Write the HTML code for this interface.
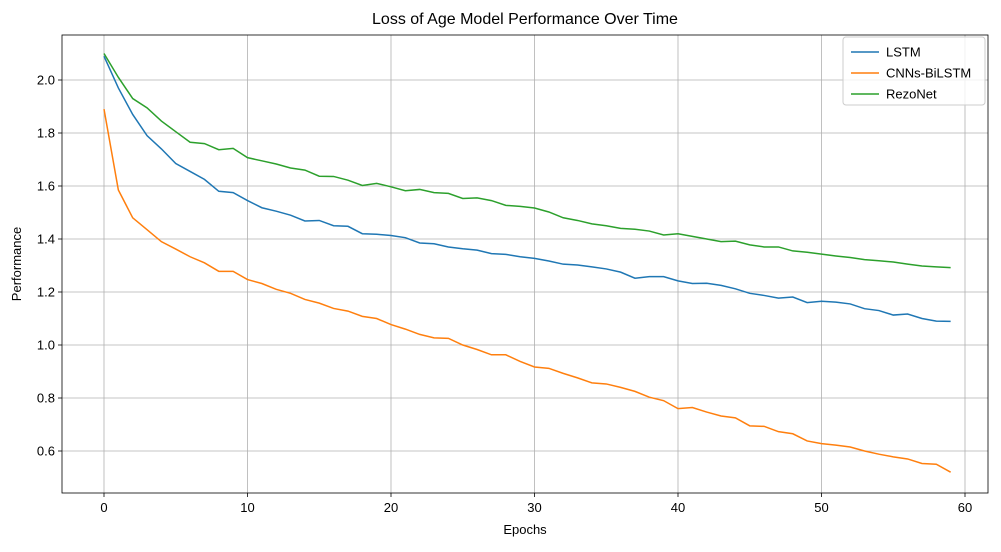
<!DOCTYPE html>
<html><head><meta charset="utf-8"><style>
body{margin:0;background:#fff;}
svg text{font-family:"Liberation Sans","DejaVu Sans",sans-serif;fill:#000;}
</style></head><body>
<svg id="chart" width="1001" height="547" xmlns="http://www.w3.org/2000/svg">
<rect width="1001" height="547" fill="#fff"/>
<text x="525" y="24" font-size="16" text-anchor="middle">Loss of Age Model Performance Over Time</text>
<g id="grid"></g><g id="series"></g><g id="axes"></g>
<text x="525" y="534" font-size="13" text-anchor="middle">Epochs</text>
<text transform="translate(21,264) rotate(-90)" font-size="13" text-anchor="middle">Performance</text>
<g id="legend"></g>
</svg>
<script>
const xTicks=[0,10,20,30,40,50,60];
const yTicks=[0.6,0.8,1.0,1.2,1.4,1.6,1.8,2.0];
const seriesNames=["LSTM","CNNs-BiLSTM","RezoNet"];
const seriesColors=["#1f77b4","#ff7f0e","#2ca02c"];
const lstm=[2.09,1.97,1.87,1.79,1.74,1.685,1.655,1.625,1.58,1.575,1.545,1.518,1.505,1.49,1.468,1.47,1.45,1.448,1.42,1.418,1.413,1.405,1.385,1.382,1.37,1.363,1.358,1.345,1.342,1.333,1.327,1.317,1.305,1.302,1.295,1.287,1.275,1.252,1.258,1.258,1.242,1.232,1.233,1.225,1.212,1.195,1.187,1.177,1.181,1.16,1.165,1.162,1.155,1.137,1.13,1.113,1.117,1.1,1.09,1.089];
const cnn=[1.89,1.585,1.48,1.435,1.39,1.362,1.333,1.31,1.278,1.278,1.247,1.232,1.21,1.195,1.172,1.158,1.138,1.128,1.108,1.1,1.077,1.06,1.04,1.027,1.025,1.0,0.983,0.963,0.963,0.938,0.917,0.912,0.893,0.876,0.857,0.853,0.84,0.825,0.803,0.79,0.76,0.764,0.747,0.732,0.725,0.695,0.693,0.673,0.665,0.638,0.628,0.622,0.615,0.6,0.588,0.578,0.57,0.553,0.55,0.52];
const rezo=[2.1,2.01,1.93,1.895,1.845,1.805,1.765,1.76,1.737,1.742,1.707,1.695,1.683,1.668,1.66,1.637,1.636,1.622,1.602,1.61,1.597,1.582,1.587,1.575,1.572,1.553,1.555,1.545,1.527,1.523,1.517,1.502,1.48,1.47,1.457,1.45,1.44,1.437,1.43,1.415,1.42,1.41,1.4,1.39,1.392,1.378,1.37,1.37,1.355,1.35,1.343,1.336,1.33,1.322,1.318,1.313,1.305,1.298,1.295,1.292];
const L=62,R=988,T=35,B=493;
const xs=v=>104+v*(965-104)/60;
const ys=v=>80+(2.0-v)*265;
const NS="http://www.w3.org/2000/svg";
function mk(tag,attrs,parent){const e=document.createElementNS(NS,tag);for(const k in attrs)e.setAttribute(k,attrs[k]);parent.appendChild(e);return e;}
const grid=document.getElementById('grid'),axes=document.getElementById('axes'),ser=document.getElementById('series'),leg=document.getElementById('legend');
xTicks.forEach(t=>{const x=xs(t);
 const g=mk('line',{x1:x,x2:x,y1:T,y2:B,stroke:'#b0b0b0','stroke-width':0.8},grid);
 
 
 mk('line',{x1:x,x2:x,y1:B,y2:B+4,stroke:'#000','stroke-width':0.8},axes);
 const tx=mk('text',{x:x,y:B+19,'font-size':13,'text-anchor':'middle'},axes);tx.textContent=t;
 
 
});
yTicks.forEach(t=>{const y=ys(t);
 const g=mk('line',{x1:L,x2:R,y1:y,y2:y,stroke:'#b0b0b0','stroke-width':0.8},grid);
 
 
 mk('line',{x1:L-4,x2:L,y1:y,y2:y,stroke:'#000','stroke-width':0.8},axes);
 const tx=mk('text',{x:L-7,y:y+4.5,'font-size':13,'text-anchor':'end'},axes);tx.textContent=t.toFixed(1);
 
 
});
const frame=mk('rect',{x:L,y:T,width:R-L,height:B-T,fill:'none',stroke:'#000','stroke-width':0.8},axes);


[lstm,cnn,rezo].forEach((d,i)=>{
 const p=mk('polyline',{points:d.map((v,j)=>xs(j)+','+ys(v)).join(' '),fill:'none',stroke:seriesColors[i],'stroke-width':1.5},ser);
 
 
});
mk('rect',{x:843,y:37,width:142,height:68,rx:3,fill:'#fff','fill-opacity':0.8,stroke:'#ccc'},leg);
seriesNames.forEach((n,i)=>{const y=52+i*21;
 const ln=mk('line',{x1:851,x2:879,y1:y,y2:y,stroke:seriesColors[i],'stroke-width':1.5},leg);
 
 
 const tx=mk('text',{x:886,y:y+4.5,'font-size':13},leg);tx.textContent=n;
 
 
});
</script>
</body></html>
